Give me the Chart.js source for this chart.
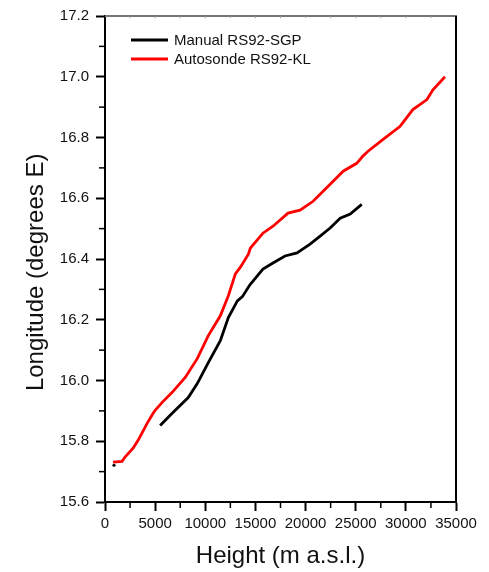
<!DOCTYPE html>
<html>
<head>
<meta charset="utf-8">
<script src="https://cdn.jsdelivr.net/npm/chart.js@4.4.1/dist/chart.umd.min.js"></script>
<style>
  body { margin: 0; background: #fff; }
  canvas { display: block; }
</style>
</head>
<body>
<canvas id="chart1" width="489" height="572"></canvas>
<script>
// Autosonde RS92-KL (red)
const klHeight = [800, 1700, 2000, 2800, 3300, 4200, 4800, 5000, 5700, 6700, 8000, 9200, 10300, 11500, 12300, 13000, 13500, 14300, 14500, 15750, 16750, 18250, 19450, 20750, 22450, 23750, 25100, 25700, 26200, 27700, 29400, 30700, 32100, 32700, 33900];
const klLon = [15.731, 15.734, 15.748, 15.777, 15.803, 15.859, 15.892, 15.902, 15.928, 15.961, 16.010, 16.072, 16.148, 16.213, 16.279, 16.351, 16.373, 16.416, 16.436, 16.485, 16.508, 16.551, 16.561, 16.590, 16.646, 16.689, 16.715, 16.738, 16.754, 16.793, 16.836, 16.892, 16.925, 16.957, 17.000];

// Manual RS92-SGP (black), first point stands alone (null breaks the line)
const sgpHeight = [900, 3000, 5500, 6700, 8300, 9200, 10300, 11500, 12300, 13200, 13700, 14450, 15750, 16750, 17950, 19150, 20450, 21450, 22450, 23450, 24450, 25600];
const sgpLon = [15.721, null, 15.852, 15.892, 15.944, 15.990, 16.059, 16.131, 16.207, 16.262, 16.276, 16.315, 16.367, 16.387, 16.410, 16.420, 16.449, 16.475, 16.502, 16.534, 16.548, 16.580];

const xTicks = [0, 5000, 10000, 15000, 20000, 25000, 30000, 35000];
const yTicks = [15.6, 15.8, 16.0, 16.2, 16.4, 16.6, 16.8, 17.0, 17.2];

const FONT = "'Liberation Sans', Arial, sans-serif";

function toPoints(xs, ys) {
  return xs.map((v, i) => ({x: v, y: ys[i]}));
}

// frame, minor ticks and legend box
const extras = {
  id: 'extras',
  afterDraw(chart) {
    const {ctx, chartArea: a, scales: {x, y}} = chart;
    ctx.save();
    ctx.lineCap = 'butt';

    // top border (grey) and right border (black)
    ctx.strokeStyle = '#777';
    ctx.lineWidth = 2;
    ctx.beginPath();
    ctx.moveTo(a.left, a.top);
    ctx.lineTo(a.right + 1, a.top);
    ctx.stroke();
    ctx.strokeStyle = '#000';
    ctx.beginPath();
    ctx.moveTo(a.right, a.top);
    ctx.lineTo(a.right, a.bottom + 1);
    ctx.stroke();

    // minor ticks
    ctx.lineWidth = 1.5;
    for (let i = 0; i < xTicks.length - 1; i++) {
      const px = x.getPixelForValue((xTicks[i] + xTicks[i + 1]) / 2);
      ctx.beginPath();
      ctx.moveTo(px, a.bottom);
      ctx.lineTo(px, a.bottom + 6);
      ctx.stroke();
    }
    for (let i = 0; i < yTicks.length - 1; i++) {
      const py = y.getPixelForValue((yTicks[i] + yTicks[i + 1]) / 2);
      ctx.beginPath();
      ctx.moveTo(a.left, py);
      ctx.lineTo(a.left - 6, py);
      ctx.stroke();
    }
    // little ticks on the top edge
    ctx.strokeStyle = '#999';
    ctx.lineWidth = 1;
    for (let v = 2500; v < 35000; v += 2500) {
      const px = x.getPixelForValue(v);
      ctx.beginPath();
      ctx.moveTo(px, a.top);
      ctx.lineTo(px, a.top + 2);
      ctx.stroke();
    }

    // legend
    ctx.font = '15px ' + FONT;
    ctx.textBaseline = 'middle';
    ctx.fillStyle = '#111';
    chart.data.datasets.forEach((ds, i) => {
      const ly = 40 + i * 19;
      ctx.strokeStyle = ds.borderColor;
      ctx.lineWidth = 3;
      ctx.beginPath();
      ctx.moveTo(131, ly);
      ctx.lineTo(168, ly);
      ctx.stroke();
      ctx.fillText(ds.label, 174, ly + 1);
    });
    ctx.restore();
  }
};

const ctx = document.getElementById('chart1').getContext('2d');

const chart1 = new Chart(ctx, {
  type: 'line',
  data: {
    datasets: [{
      label: 'Manual RS92-SGP',
      data: toPoints(sgpHeight, sgpLon),
      borderColor: '#000',
      backgroundColor: '#000',
      borderWidth: 2.8,
      pointRadius: (c) => c.dataIndex === 0 ? 1.6 : 0,
      pointBorderWidth: 0,
      spanGaps: false,
      tension: 0
    }, {
      label: 'Autosonde RS92-KL',
      data: toPoints(klHeight, klLon),
      borderColor: '#ff0000',
      backgroundColor: '#ff0000',
      borderWidth: 2.8,
      pointRadius: 0,
      tension: 0
    }]
  },
  options: {
    responsive: false,
    animation: false,
    layout: { padding: { top: 14, right: 33, left: 0, bottom: 0 } },
    plugins: {
      legend: { display: false },
      tooltip: { enabled: false }
    },
    scales: {
      x: {
        type: 'linear',
        min: 0,
        max: 35000,
        afterFit(s) { s.height = 70; },
        afterBuildTicks(s) { s.ticks = xTicks.map(v => ({value: v})); },
        border: { display: true, color: '#000', width: 2 },
        grid: { drawOnChartArea: false, tickLength: 9, tickWidth: 2, tickColor: '#000' },
        ticks: {
          color: '#111',
          padding: 4,
          maxRotation: 0,
          autoSkip: false,
          font: { family: FONT, size: 15 },
          callback: (v) => String(v)
        },
        title: {
          display: true,
          text: 'Height (m a.s.l.)',
          color: '#111',
          font: { family: FONT, size: 24 },
          padding: { top: 0, bottom: 1 }
        }
      },
      y: {
        type: 'linear',
        min: 15.6,
        max: 17.2,
        afterFit(s) { s.width = 105; },
        afterBuildTicks(s) { s.ticks = yTicks.map(v => ({value: v})); },
        border: { display: true, color: '#000', width: 2 },
        grid: { drawOnChartArea: false, tickLength: 9, tickWidth: 2, tickColor: '#000' },
        ticks: {
          color: '#111',
          padding: 7,
          autoSkip: false,
          font: { family: FONT, size: 15 },
          callback: (v) => v.toFixed(1)
        },
        title: {
          display: true,
          text: 'Longitude (degrees E)    ',
          color: '#111',
          font: { family: FONT, size: 24 },
          padding: { top: 22, bottom: 0 }
        }
      }
    }
  },
  plugins: [extras]
});
</script>
</body>
</html>
